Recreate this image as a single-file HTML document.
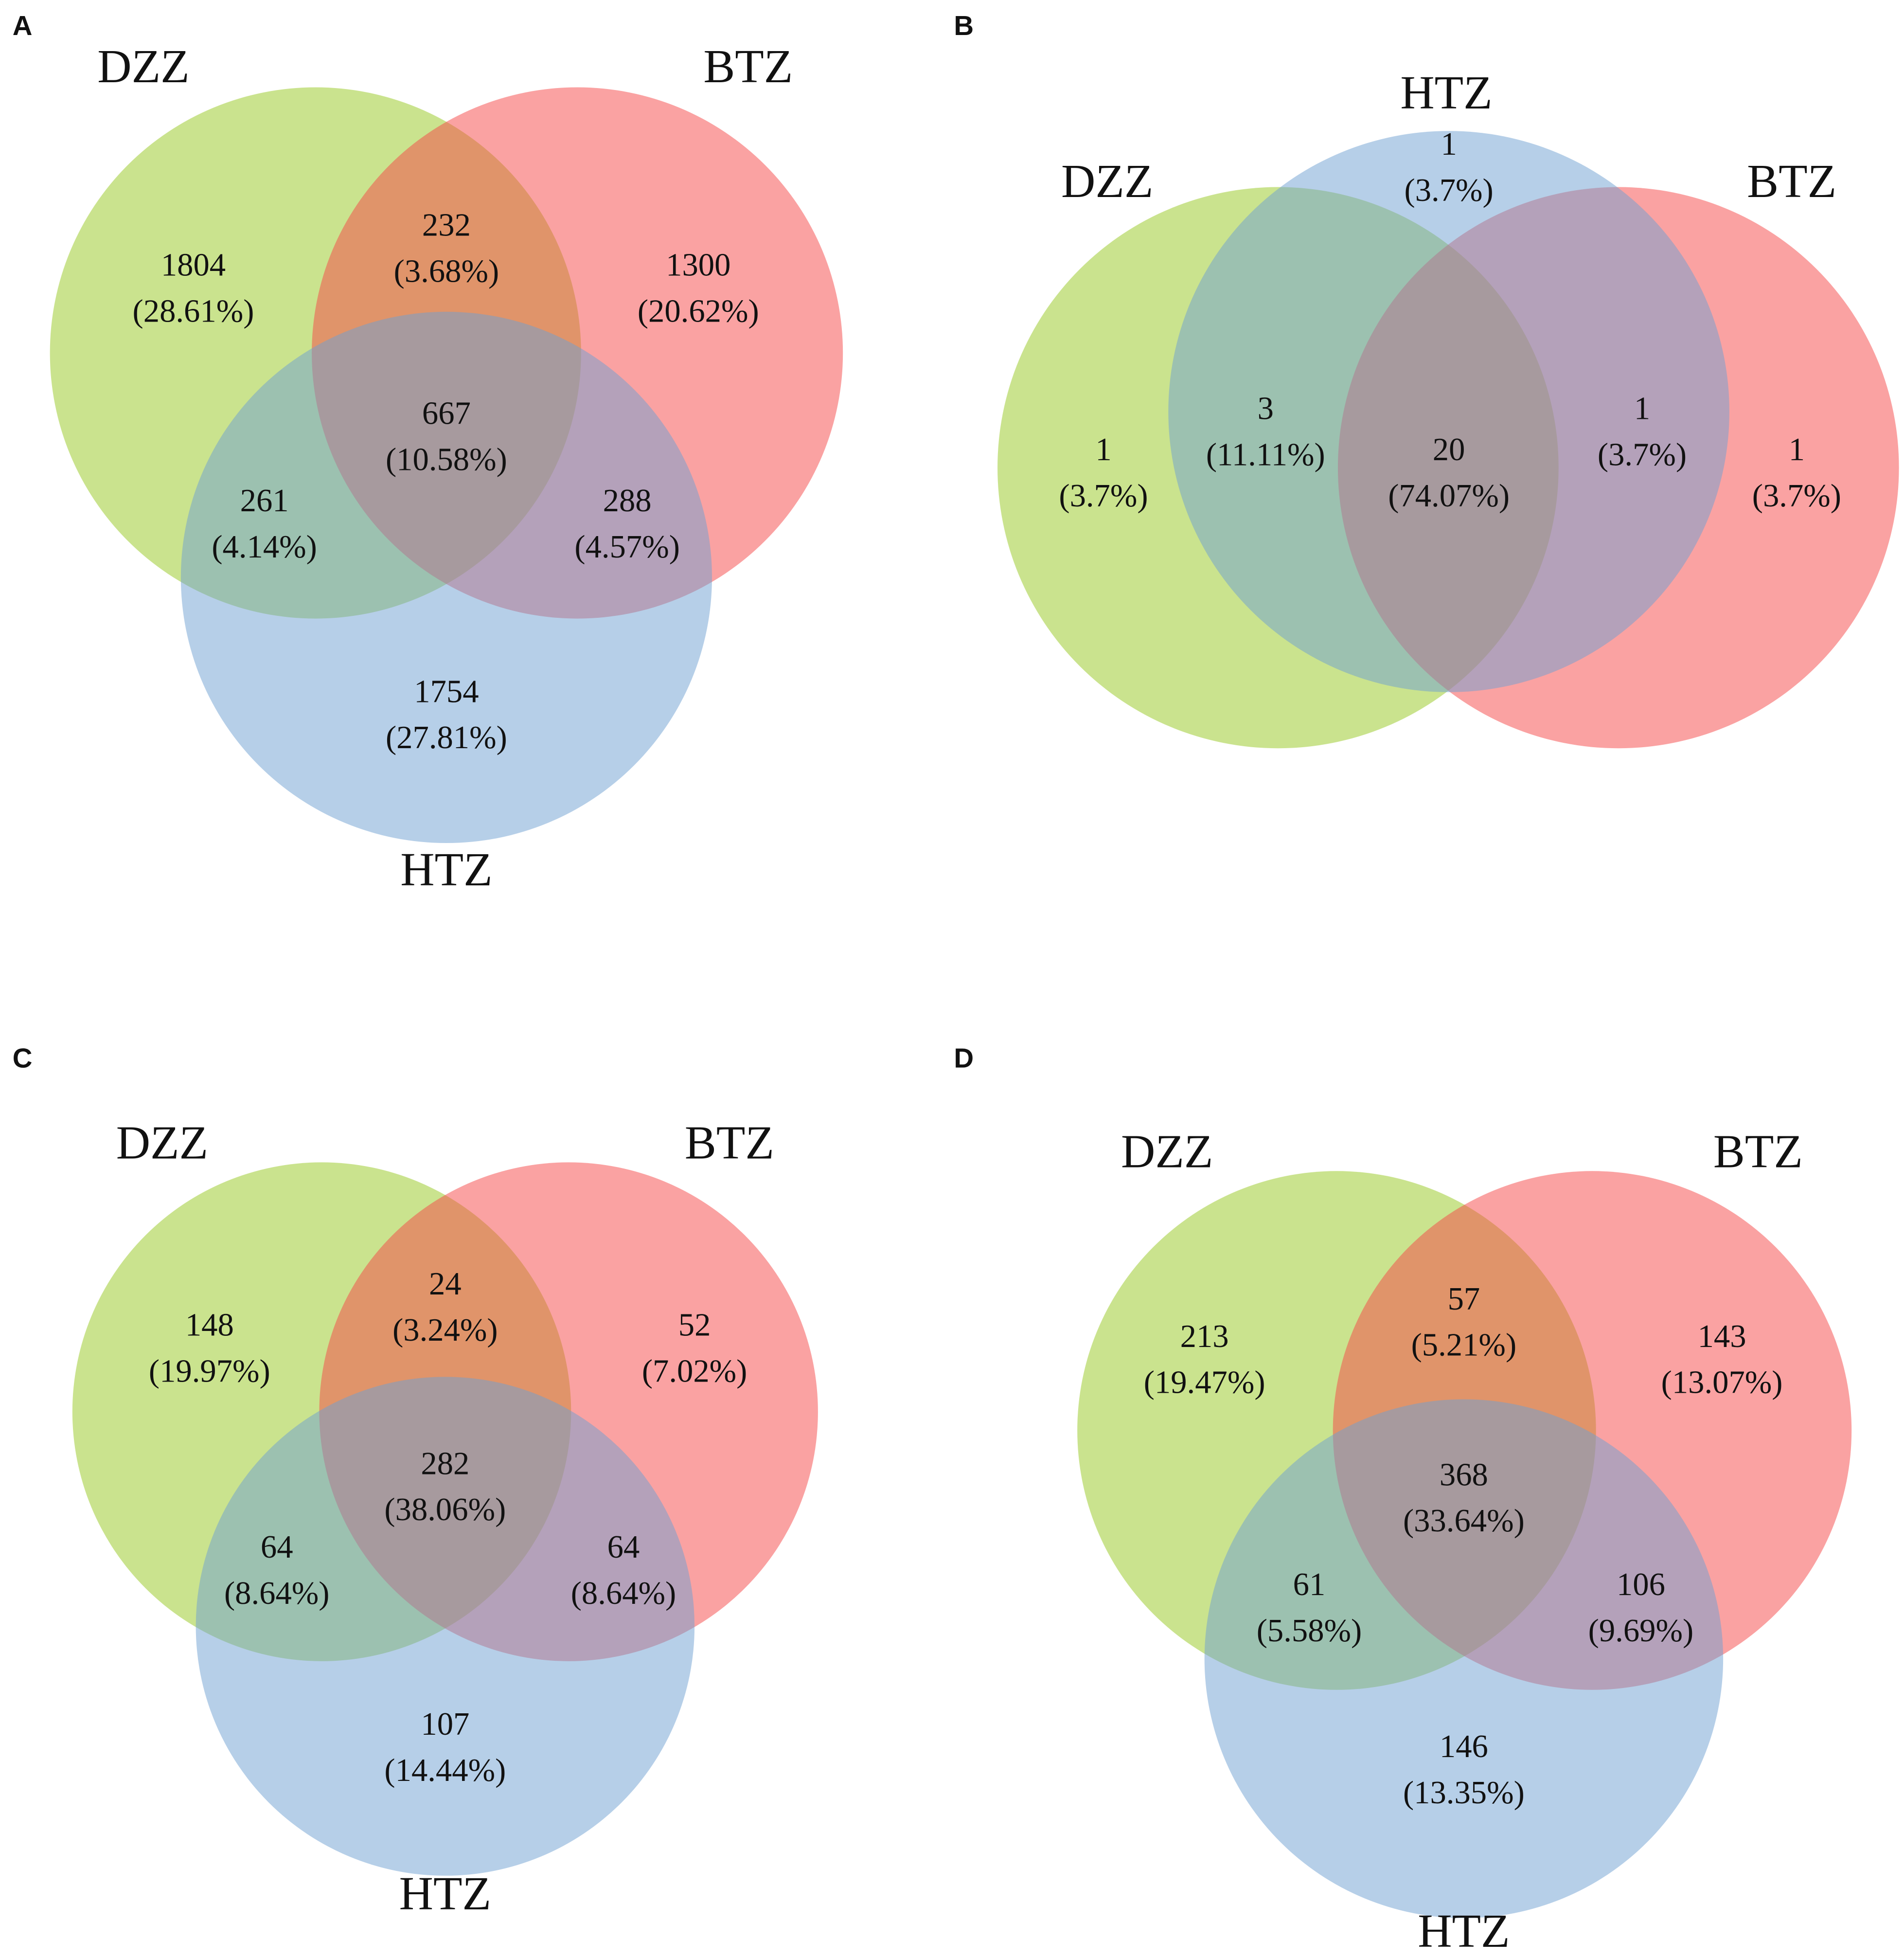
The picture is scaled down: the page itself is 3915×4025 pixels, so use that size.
<!DOCTYPE html>
<html><head><meta charset="utf-8"><style>
html,body{margin:0;padding:0;background:#fff;}
svg{display:block;}
text{font-family:"Liberation Serif",serif;fill:#111;}
.lt{font-family:"Liberation Sans",sans-serif;font-weight:bold;font-size:22px;}
</style></head><body>
<svg id="chart" xmlns="http://www.w3.org/2000/svg" width="3915" height="4025" viewBox="0 0 1527 1570">
<rect width="1527" height="1570" fill="#fff"/>
</svg>
<script>
// Panel data (region order: only1, only2, only3, 1&2, 1&3, 2&3, all)
const panelIds = ["A", "B", "C", "D"];
const countsA = [1804, 1300, 1754, 232, 261, 288, 667];
const pctsA = ["28.61%", "20.62%", "27.81%", "3.68%", "4.14%", "4.57%", "10.58%"];
const countsB = [1, 1, 1, 3, 1, 20];
const pctsB = ["3.7%", "3.7%", "3.7%", "11.11%", "3.7%", "74.07%"];
const countsC = [148, 52, 107, 24, 64, 64, 282];
const pctsC = ["19.97%", "7.02%", "14.44%", "3.24%", "8.64%", "8.64%", "38.06%"];
const countsD = [213, 143, 146, 57, 61, 106, 368];
const pctsD = ["19.47%", "13.07%", "13.35%", "5.21%", "5.58%", "9.69%", "33.64%"];
const setNamesTri = ["DZZ", "BTZ", "HTZ"];
const setNamesB = ["DZZ", "BTZ", "HTZ"];

const svg = document.getElementById('chart');
const NS = "http://www.w3.org/2000/svg";
const fills = {DZZ:"rgb(150,200,30)", BTZ:"rgb(245,70,70)", HTZ:"rgb(110,160,210)"};

function mk(tag, attrs){const e=document.createElementNS(NS,tag);for(const k in attrs)e.setAttribute(k,attrs[k]);svg.appendChild(e);return e;}
function label(x,y,txt,size,name){
  const t=mk('text',{x:x,y:y,'font-size':size,'text-anchor':'middle'});
  t.textContent=txt;
  
  
  return t;
}
function region(x,y,c,p,name){
  label(x,y,String(c),26,name+'-count');
  label(x,y+37,'('+p+')',26,name+'-percent');
}

const layouts = {
  A:{letter:[10,28], circles:[[253,283,213],[463,283,213],[358,463,213]],
     names:[[115,66],[600,66],[358,710]],
     regions:[[155,221],[560,221],[358,563],[358,189],[212,410],[503,410],[358,340]]},
  C:{letter:[10,856], circles:[[258,1132,200],[456,1132,200],[357,1304,200]],
     names:[[130,929],[585,929],[357,1531]],
     regions:[[168,1071],[557,1071],[357,1391],[357,1038],[222,1249],[500,1249],[357,1182]]},
  D:{letter:[765,856], circles:[[1072,1147,208],[1277,1147,208],[1174,1330,208]],
     names:[[936,936],[1410,936],[1174,1561]],
     regions:[[966,1080],[1381,1080],[1174,1409],[1174,1050],[1050,1279],[1316,1279],[1174,1191]]}
};
const dataMap = {A:[countsA,pctsA], C:[countsC,pctsC], D:[countsD,pctsD]};

panelIds.forEach(pid=>{
  if(pid==="B") return;
  const L=layouts[pid], [cnt,pct]=dataMap[pid];
  const lt=mk('text',{x:L.letter[0],y:L.letter[1],class:'lt'}); lt.textContent=pid;
  
  
  setNamesTri.forEach((n,i)=>{
    const c=L.circles[i];
    const e=mk('circle',{cx:c[0],cy:c[1],r:c[2],fill:fills[n],'fill-opacity':0.5});
    
    
    label(L.names[i][0],L.names[i][1],n,38,'set-label-'+n.toLowerCase()+'-'+pid.toLowerCase());
  });
  cnt.forEach((v,i)=>region(L.regions[i][0],L.regions[i][1],v,pct[i],'region-'+pid.toLowerCase()+'-'+i));
});

// Panel B (circles: DZZ, BTZ, HTZ drawn in that order)
(function(){
  const circles=[[1025,375,225],[1298,375,225],[1162,330,225]];
  const names=[[888,158],[1437,158],[1160,87]];
  const regs=[[885,369],[1441,369],[1162,124],[1015,336],[1317,336],[1162,369]];
  const lt=mk('text',{x:765,y:28,class:'lt'}); lt.textContent="B";
  
  
  setNamesB.forEach((n,i)=>{
    const c=circles[i];
    const e=mk('circle',{cx:c[0],cy:c[1],r:c[2],fill:fills[n],'fill-opacity':0.5});
    
    
    label(names[i][0],names[i][1],n,38,'set-label-'+n.toLowerCase()+'-b');
  });
  countsB.forEach((v,i)=>region(regs[i][0],regs[i][1],v,pctsB[i],'region-b-'+i));
})();
</script>
</body></html>
